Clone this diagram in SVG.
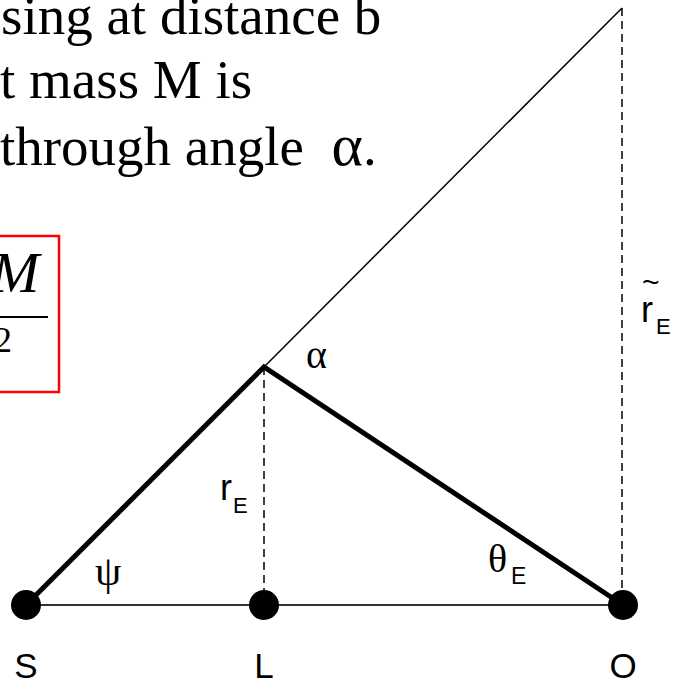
<svg xmlns="http://www.w3.org/2000/svg" width="681" height="683" viewBox="0 0 681 683">
<style>
.serif{font-family:"Liberation Serif","Times New Roman",serif;fill:#000}
.sans{font-family:"Liberation Sans",Arial,sans-serif;fill:#000}
.thick{stroke:#000;stroke-width:5;fill:none;stroke-linecap:round}
.thin{stroke:#000;stroke-width:1.5;fill:none}
.base{stroke:#333;stroke-width:2;fill:none}
.dash{stroke:#000;stroke-width:1.5;fill:none;stroke-dasharray:8 5}
.node{fill:#000}
</style>
<rect width="681" height="683" fill="#fff"/>
<g id="caption" class="serif" font-size="55" style="white-space:pre">
  <text x="1" y="34">sing at distance b</text>
  <text x="0" y="98">t mass M is</text>
  <text x="0" y="165" xml:space="preserve">through angle  <tspan font-size="60">α</tspan>.</text>
</g>
<g id="formula">
  <rect x="-20" y="236" width="79" height="156" fill="none" stroke="#f00" stroke-width="2.5"/>
  <text class="serif" x="-9" y="292" font-size="58" font-style="italic">M</text>
  <line x1="-5" y1="317" x2="48" y2="317" stroke="#000" stroke-width="2"/>
  <text class="serif" x="-6" y="352" font-size="36">2</text>
</g>
<g id="connectors">
  <line class="base" x1="26" y1="605" x2="623" y2="605"/>
  <line class="thin" x1="264" y1="367" x2="622" y2="8"/>
  <line class="dash" x1="622" y1="8" x2="622" y2="605"/>
  <line class="dash" x1="264" y1="367" x2="264" y2="605"/>
  <polyline class="thick" points="26,605 264,367 623,605"/>
</g>
<g id="labels">
  <text class="serif" x="306" y="368" font-size="40">α</text>
  <text class="serif" x="95" y="585" font-size="42">ψ</text>
  <text class="serif" x="488" y="572" font-size="40">θ</text>
  <text class="sans" x="511" y="584" font-size="23">E</text>
  <text class="sans" x="220" y="500" font-size="36">r</text>
  <text class="sans" x="233" y="513" font-size="22">E</text>
  <text class="sans" x="642" y="292" font-size="30">~</text>
  <text class="sans" x="641" y="322" font-size="36">r</text>
  <text class="sans" x="656" y="334" font-size="22">E</text>
</g>
<g id="S">
  <circle class="node" cx="26" cy="605" r="15"/>
  <text class="sans" x="26" y="678" font-size="35" text-anchor="middle">S</text>
</g>
<g id="L">
  <circle class="node" cx="264" cy="605" r="15"/>
  <text class="sans" x="264" y="678" font-size="35" text-anchor="middle">L</text>
</g>
<g id="O">
  <circle class="node" cx="623" cy="605" r="15"/>
  <text class="sans" x="623" y="678" font-size="35" text-anchor="middle">O</text>
</g>
</svg>
